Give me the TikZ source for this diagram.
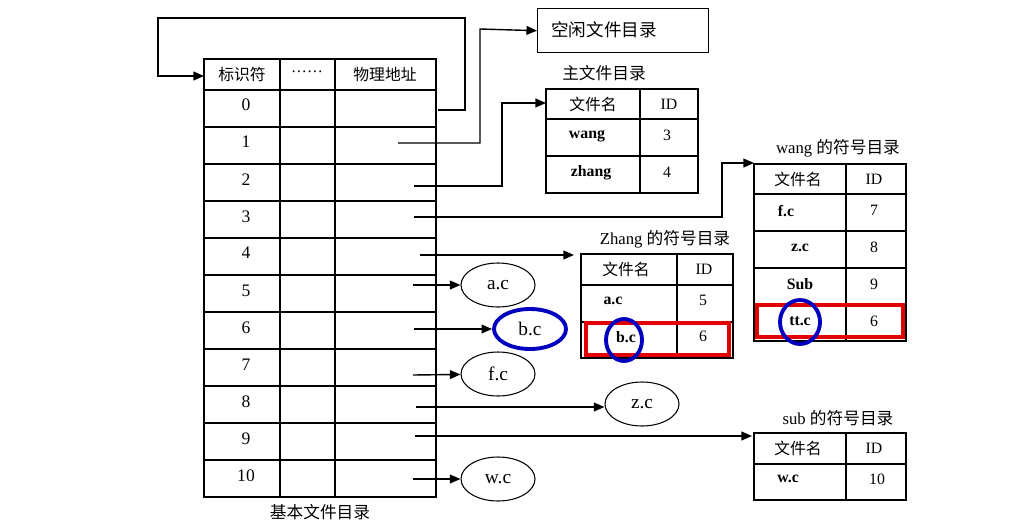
\documentclass[tikz,border=0pt]{standalone}
\usepackage{fontspec}
\setmainfont{Liberation Serif}
\newfontfamily\cjk{Noto Sans CJK SC}
\usetikzlibrary{arrows.meta,shapes.geometric}
\begin{document}
\begin{tikzpicture}[x=0.02cm,y=-0.02cm,
  ln/.style={line width=0.8pt,black},
  ar/.style={ln,-{Triangle[length=6pt,width=5pt]}},
  tx/.style={inner sep=0pt,font=\fontsize{9}{10}\selectfont},
  ttl/.style={inner sep=0pt,font=\fontsize{9.5}{10}\selectfont},
  el/.style={ellipse,draw,line width=0.6pt,inner sep=0pt,font=\fontsize{11}{12}\selectfont},
  rbox/.style={draw=red!90!black,line width=2.4pt},
  bcirc/.style={draw=blue!75!black,line width=2.2pt}]
\path[use as bounding box] (0,0) rectangle (1016,527);
% main table
\draw[ln] (204,59) rectangle (436,497);
\draw[ln] (280,59)--(280,497) (335,59)--(335,497);
\foreach \y in {90,127,164,201,238,275,312,349,386,423,460} \draw[ln] (204,\y)--(436,\y);
\node[tx] (h1) at (242,74) {\cjk 标识符};
\node[tx] (h2) at (307,72) {……};
\node[tx] (h3) at (385,74) {\cjk 物理地址};
\foreach \i/\y in {0/105,1/142,2/180,3/217,4/253,5/291,6/328,7/365,8/402,9/439,10/476}
  \node[tx,font=\fontsize{10}{11}\selectfont] (r\i) at (246,\y) {\i};
\node[ttl] (base) at (320,512) {\cjk 基本文件目录};
% free dir
\node[draw,ln,minimum width=171*0.02cm,minimum height=44*0.02cm,anchor=north west] (free) at (537,8) {};
\node[tx,font=\fontsize{10}{11}\selectfont\cjk,anchor=west] (freet) at (551,30) {空闲文件目录};
% master dir
\node[ttl] (mt) at (604,73) {\cjk 主文件目录};
\draw[ln] (546,89) rectangle (698,193) (640,89)--(640,193) (546,119)--(698,119) (546,156)--(698,156);
\node[tx] (m1) at (593,104) {\cjk 文件名};
\node[tx] (m2) at (669,104) {ID};
\node[tx] (m3) at (587,136) {\textbf{wang}};
\node[tx] (m4) at (667,135) {3};
\node[tx] (m5) at (591,173) {\textbf{zhang}};
\node[tx] (m6) at (667,172) {4};
% wang dir
\node[ttl] (wt) at (838,148) {wang {\cjk 的符号目录}};
\draw[ln] (754,164) rectangle (906,341) (846,164)--(846,341);
\foreach \y in {194,231,268,305} \draw[ln] (754,\y)--(906,\y);
\node[tx] (w1) at (798,179) {\cjk 文件名};
\node[tx] (w2) at (874,179) {ID};
\node[tx] (w3) at (786,211) {\textbf{f.c}};
\node[tx] (w4) at (874,210) {7};
\node[tx] (w5) at (800,248) {\textbf{z.c}};
\node[tx] (w6) at (874,247) {8};
\node[tx] (w7) at (800,284) {\textbf{Sub}};
\node[tx] (w8) at (874,284) {9};
\node[tx] (w9) at (800,321) {\textbf{tt.c}};
\node[tx] (w10) at (874,321) {6};
\draw[rbox] (757,305) rectangle (903,337);
\draw[bcirc] (800,322) ellipse (20 and 22);
% zhang dir
\node[ttl] (zt) at (665,239) {Zhang {\cjk 的符号目录}};
\draw[ln] (581,254) rectangle (733,358) (677,254)--(677,358) (581,285)--(733,285) (581,322)--(733,322);
\node[tx] (z1) at (626,269) {\cjk 文件名};
\node[tx] (z2) at (704,269) {ID};
\node[tx] (z3) at (613,301) {\textbf{a.c}};
\node[tx] (z4) at (703,300) {5};
\node[tx] (z5) at (626,337) {\textbf{b.c}};
\node[tx] (z6) at (703,336) {6};
\draw[rbox] (586,323) rectangle (729,355);
\draw[bcirc] (624,340) ellipse (18 and 21);
% sub dir
\node[ttl] (st) at (838,418) {sub {\cjk 的符号目录}};
\draw[ln] (754,433) rectangle (906,500) (846,433)--(846,500) (754,464)--(906,464);
\node[tx] (s1) at (798,448) {\cjk 文件名};
\node[tx] (s2) at (874,448) {ID};
\node[tx] (s3) at (788,479) {\textbf{w.c}};
\node[tx] (s4) at (877,479) {10};
% ellipses
\node[el,minimum width=74*0.02cm,minimum height=44*0.02cm] (ac) at (498,285) {a.c};
\node[el,minimum width=74*0.02cm,minimum height=44*0.02cm] (fc) at (498,374) {f.c};
\node[el,minimum width=74*0.02cm,minimum height=44*0.02cm] (wc) at (498,479) {w.c};
\node[el,minimum width=74*0.02cm,minimum height=44*0.02cm] (zc) at (642,404) {z.c};
\node[el,minimum width=72*0.02cm,minimum height=40*0.02cm,bcirc] (bc) at (530,329) {b.c};
% connectors
\coordinate (p0) at (438,110); \coordinate (p1) at (398,143); \coordinate (p2) at (414,186);
\coordinate (p3) at (414,217); \coordinate (p4) at (420,255); \coordinate (p5) at (413,285);
\coordinate (p6) at (414,329); \coordinate (p7) at (413,375); \coordinate (p8) at (416,407);
\coordinate (p9) at (415,436); \coordinate (p10) at (413,479);
\coordinate (hd) at (204,76);
\coordinate (zin) at (574,255); \coordinate (sin) at (752,436);
\draw[ar] (p0) -- (465,110) -- (465,18) -- (158,18) -- (158,76) -- (hd);
\draw[ar] (p1) -- (480,143) -- (480,29) -- (free.west);
\draw[ar] (p2) -- (502,186) -- (502,103) -- (546,103);
\draw[ar] (p3) -- (722,217) -- (722,163) -- (754,163);
\draw[ar] (p4) -- (zin);
\draw[ar] (p5) -- (ac);
\draw[ar] (p6) -- (bc);
\draw[ar] (p7) -- (fc);
\draw[ar] (p8) -- (zc.west|-p8);
\draw[ar] (p9) -- (sin);
\draw[ar] (p10) -- (wc);
\end{tikzpicture}
\end{document}
